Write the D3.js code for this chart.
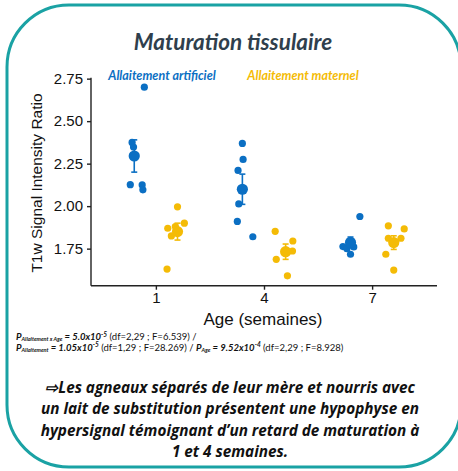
<!DOCTYPE html>
<html>
<head>
<meta charset="utf-8">
<script src="https://cdn.jsdelivr.net/npm/d3@7"></script>
<style>
  body { margin: 0; background: #fff; }
  svg { display: block; }
  .axis path, .axis line { stroke: #222; stroke-width: 1.4; }
  .axis text { font-family: "Liberation Sans", Arial, sans-serif; font-size: 15px; fill: #111; }
</style>
</head>
<body>
<div id="chart"></div>
<script>
// Data
const ages = [1, 4, 7];
const groups = ['Allaitement artificiel', 'Allaitement maternel'];
const yTicks = [1.75, 2.00, 2.25, 2.50, 2.75];

// individual values per age (artificial feeding)
const artificiel = [
    [2.70, 2.375, 2.348, 2.126, 2.125, 2.096],
    [2.369, 2.275, 2.21, 2.013, 1.91, 1.82],
    [1.939, 1.79, 1.762, 1.717, 1.75, 1.76]
];
// individual values per age (maternal feeding)
const maternel = [
    [1.996, 1.87, 1.90, 1.825, 1.88, 1.63],
    [1.852, 1.795, 1.736, 1.687, 1.59],
    [1.884, 1.866, 1.811, 1.811, 1.717, 1.624]
];
// horizontal jitter of each point, in weeks
const jitterArt = [
    [0.28, -0.06, -0.02, -0.11, 0.22, 0.24],
    [0, 0.02, -0.12, -0.1, -0.14, 0.29],
    [0.26, 0, -0.21, 0, -0.1, 0.09]
];
const jitterMat = [
    [0, -0.27, 0.19, -0.17, -0.06, -0.29],
    [-0.29, 0.2, 0.19, -0.26, 0.05],
    [-0.15, 0.29, -0.15, 0.2, -0.22, 0]
];

const W = 458, H = 471;
const blue = '#0b6fc3', yellow = '#f4bb06', teal = '#1aa2a4';

const svg = d3.select('#chart').append('svg')
    .attr('width', W)
    .attr('height', H);

// rounded frame
svg.append('rect')
    .attr('x', 7).attr('y', 5)
    .attr('width', 454).attr('height', 462)
    .attr('rx', 62).attr('ry', 62)
    .attr('fill', 'none')
    .attr('stroke', teal)
    .attr('stroke-width', 3);

// title
svg.append('text')
    .attr('x', 233).attr('y', 50)
    .attr('text-anchor', 'middle')
    .style('font-family', 'Lato, "Open Sans", sans-serif')
    .style('font-style', 'italic')
    .style('font-weight', 'bold')
    .style('font-size', '22.5px')
    .attr('fill', '#2f3f4d')
    .text('Maturation tissulaire');

// Scales
const x = d3.scaleLinear().domain([-0.8, 8.8]).range([91, 437]);
const y = d3.scaleLinear().domain([1.532, 2.755]).range([285.7, 77.8]);
const dodge = 0.6;

// Axes
svg.append('g')
    .attr('class', 'axis')
    .attr('transform', 'translate(0,285.7)')
    .call(d3.axisBottom(x).tickValues(ages).tickSize(4).tickPadding(3).tickFormat(d3.format('d')))
    .call(g => g.select('.domain').attr('d', `M${x.range()[0]},0H${x.range()[1]}`));

svg.append('g')
    .attr('class', 'axis')
    .attr('transform', 'translate(91,0)')
    .call(d3.axisLeft(y).tickValues(yTicks).tickSize(4).tickPadding(4).tickFormat(d3.format('.2f')))
    .call(g => g.select('.domain').attr('d', `M0,${y.range()[1]}V${y.range()[0]}`));

svg.append('text')
    .attr('transform', 'translate(42,183) rotate(-90)')
    .attr('text-anchor', 'middle')
    .style('font-family', '"Liberation Sans", Arial, sans-serif')
    .style('font-size', '15.5px')
    .attr('fill', '#111')
    .text('T1w Signal Intensity Ratio');

svg.append('text')
    .attr('x', 263).attr('y', 325)
    .attr('text-anchor', 'middle')
    .style('font-family', '"Liberation Sans", Arial, sans-serif')
    .style('font-size', '17px')
    .attr('fill', '#111')
    .text('Age (semaines)');

// legend labels
[[groups[0], blue, 162], [groups[1], yellow, 303]].forEach(([label, c, cx]) => {
    svg.append('text')
        .attr('x', cx).attr('y', 80)
        .attr('text-anchor', 'middle')
        .style('font-family', 'Lato, sans-serif')
        .style('font-style', 'italic')
        .style('font-weight', 'bold')
        .style('font-size', '12.5px')
        .attr('fill', c)
        .text(label);
});

// points, means and SE bars
function drawGroup(values, jitter, offset, color) {
    values.forEach((vals, i) => {
        const age = ages[i];
        const g = svg.append('g');
        g.selectAll('circle.pt')
            .data(vals)
            .enter()
            .append('circle')
            .attr('class', 'pt')
            .attr('cx', (d, j) => x(age + offset + jitter[i][j]))
            .attr('cy', d => y(d))
            .attr('r', 3.6)
            .attr('fill', color);

        const m = d3.mean(vals);
        const se = d3.deviation(vals) / Math.sqrt(vals.length);
        const cx = x(age + offset);
        g.append('line')
            .attr('x1', cx).attr('x2', cx)
            .attr('y1', y(m - se)).attr('y2', y(m + se))
            .attr('stroke', color).attr('stroke-width', 1.6);
        [m - se, m + se].forEach(v => {
            g.append('line')
                .attr('x1', cx - 3).attr('x2', cx + 3)
                .attr('y1', y(v)).attr('y2', y(v))
                .attr('stroke', color).attr('stroke-width', 1.6);
        });
        g.append('circle')
            .attr('cx', cx)
            .attr('cy', y(m))
            .attr('r', 5.6)
            .attr('fill', color);
    });
}
drawGroup(artificiel, jitterArt, -dodge, blue);
drawGroup(maternel, jitterMat, dodge, yellow);

// statistics lines: [text, bold italic?, shift (-1 sub, 1 sup)]
const stats = [
    [['P', true, 0], ['Allaitement x Age', true, -1], [' = 5.0x10', true, 0], ['-5', true, 1], [' (df=2,29 ; F=6.539) /', false, 0]],
    [['P', true, 0], ['Allaitement', true, -1], [' = 1.05x10', true, 0], ['-5', true, 1], [' (df=1,29 ; F=28.269) / ', false, 0],
     ['P', true, 0], ['Age', true, -1], [' = 9.52x10', true, 0], ['-4', true, 1], [' (df=2,29 ; F=8.928)', false, 0]]
];
stats.forEach((parts, li) => {
    const t = svg.append('text')
        .attr('x', 16).attr('y', 340 + li * 10.5)
        .style('font-family', 'Lato, sans-serif')
        .style('font-size', '9.5px')
        .attr('fill', '#111');
    let prev = 0;
    parts.forEach(([s, bi, shift]) => {
        const target = shift === -1 ? 1 : shift === 1 ? -3.2 : 0;
        const ts = t.append('tspan').text(s).attr('dy', target - prev);
        prev = target;
        if (bi) ts.style('font-weight', 'bold').style('font-style', 'italic');
        if (shift === -1) ts.style('font-size', '5.5px');
        if (shift === 1) ts.style('font-size', '6.5px');
    });
});

// conclusion
const conclusion = [
    '\u21E8Les agneaux séparés de leur mère et nourris avec',
    'un lait de substitution présentent une hypophyse en',
    'hypersignal témoignant d\u2019un retard de maturation à',
    '1 et 4 semaines.'
];
svg.append('g').selectAll('text')
    .data(conclusion)
    .enter()
    .append('text')
    .attr('x', 230)
    .attr('y', (d, i) => 393 + i * 21.3)
    .attr('text-anchor', 'middle')
    .style('font-family', '"Open Sans", Lato, sans-serif')
    .style('font-style', 'italic')
    .style('font-weight', 'bold')
    .style('font-size', '15.3px')
    .attr('fill', '#111')
    .text(d => d);
</script>
</body>
</html>
